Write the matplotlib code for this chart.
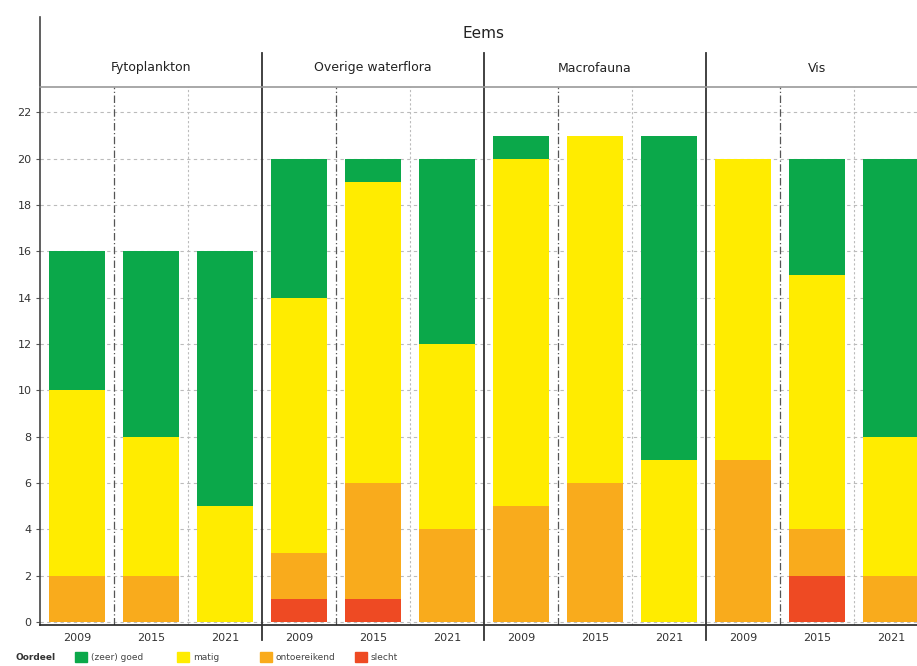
import matplotlib
matplotlib.use("Agg")
import matplotlib.pyplot as plt
from matplotlib.patches import Rectangle
import numpy as np

plt.rcParams['font.family'] = ['DejaVu Sans']

groups = ["Fytoplankton", "Overige waterflora", "Macrofauna", "Vis"]
years = ["2009", "2015", "2021"]
categories = ["slecht", "ontoereikend", "matig", "(zeer) goed"]
colors = ["#ee4a23", "#f9ab1c", "#ffec00", "#0ba84a"]

# per bar (group-major, then year): counts per category
slecht       = [0, 0, 0,   1, 1, 0,   0, 0, 0,   0, 2, 0]
ontoereikend = [2, 2, 0,   2, 5, 4,   5, 6, 0,   7, 2, 2]
matig        = [8, 6, 5,  11, 13, 8,  15, 15, 7,  13, 11, 6]
goed         = [6, 8, 11,  6, 1, 8,   1, 0, 14,   0, 5, 12]
series = [slecht, ontoereikend, matig, goed]

W, H = 917, 666
fig = plt.figure(figsize=(W/100, H/100), dpi=100)
x0, x1 = 40, 928
ytop, ybot = 87, 625
ax = fig.add_axes([x0/W, 1-ybot/H, (x1-x0)/W, (ybot-ytop)/H])

n = len(slecht)
xs = np.arange(n) + 0.5
bottom = np.zeros(n)
for vals, col in zip(series, colors):
    ax.bar(xs, vals, width=0.75, bottom=bottom, color=col, zorder=3, linewidth=0)
    bottom += np.array(vals)

ax.set_xlim(0, 12)
ax.set_ylim(-0.13, 23.1)
ax.set_yticks(range(0, 23, 2))
ax.set_yticklabels([str(v) for v in range(0, 23, 2)], fontsize=8, color="#333333")
ax.set_xticks(xs)
ax.set_xticklabels(years * 4, fontsize=8, color="#333333")
ax.tick_params(axis='both', length=3, width=0.8, color="#555555", pad=3)
ax.tick_params(axis='x', length=0, pad=6)

for v in range(0, 23, 2):
    ax.axhline(v, color="#bbbbbb", lw=0.8, ls=(0, (3, 3)), zorder=1)

for s in ['top', 'right']:
    ax.spines[s].set_visible(False)
ax.spines['left'].set_color("#444444")
ax.spines['left'].set_linewidth(1.2)
ax.spines['bottom'].set_color("#222222")
ax.spines['bottom'].set_linewidth(1.2)

# separators within panels
for p in range(4):
    ax.axvline(3*p + 1, color="#555555", lw=0.9, ls=(0, (6, 2, 1, 2)), zorder=2)
    ax.axvline(3*p + 2, color="#bbbbbb", lw=0.8, ls=(0, (2, 2)), zorder=2)

# panel separators (extend into header and below axis)
for p in range(1, 5):
    xp = (x0 + 74*3*p) / W
    fig.add_artist(plt.Line2D([xp, xp], [1-53/H, 1-640/H], color="#333333", lw=1.3))

# left axis extension upward
fig.add_artist(plt.Line2D([x0/W, x0/W], [1-17/H, 1-ytop/H], color="#444444", lw=1.2))
# header bottom line
fig.add_artist(plt.Line2D([x0/W, 1], [1-ytop/H, 1-ytop/H], color="#999999", lw=1.2))

fig.text((x0 + 888/2)/W, 1-33/H, "Eems", ha='center', va='center', fontsize=11, color="#222222")
for p, g in enumerate(groups):
    cx = (x0 + 74*(3*p + 1.5)) / W
    fig.text(cx, 1-68/H, g, ha='center', va='center', fontsize=9, color="#222222")

# legend
ly = 1 - 657/H
fig.text(15/W, ly, "Oordeel", ha='left', va='center', fontsize=6.5, fontweight='bold', color="#333333")
leg_x = [75, 177, 260, 355]
for lx, lab, col in zip(leg_x, ["(zeer) goed", "matig", "ontoereikend", "slecht"],
                        [colors[3], colors[2], colors[1], colors[0]]):
    fig.add_artist(Rectangle((lx/W, 1-662/H), 12/W, 10/H, color=col, transform=fig.transFigure))
    fig.text((lx+16)/W, ly, lab, ha='left', va='center', fontsize=6.5, color="#444444")

fig.savefig("out.png", dpi=100)
